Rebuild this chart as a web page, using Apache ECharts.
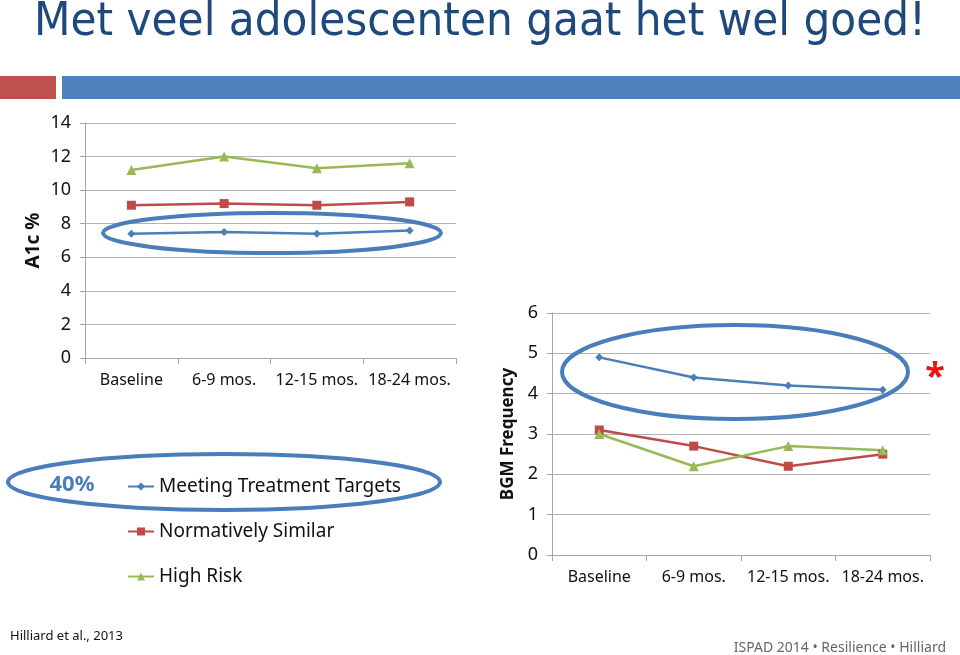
<!DOCTYPE html>
<html><head><meta charset="utf-8">
<script src="https://cdn.jsdelivr.net/npm/echarts@6/dist/echarts.min.js"></script>
<style>html,body{margin:0;padding:0;background:#fff}#c{width:960px;height:655px}</style>
</head><body><div id="c"></div>
<script>
var categories = ['Baseline', '6-9 mos.', '12-15 mos.', '18-24 mos.'];
var seriesNames = ['Meeting Treatment Targets', 'Normatively Similar', 'High Risk'];
var a1cMeeting = [7.4, 7.5, 7.4, 7.6];
var a1cNormative = [9.1, 9.2, 9.1, 9.3];
var a1cHighRisk = [11.2, 12.0, 11.3, 11.6];
var bgmMeeting = [4.9, 4.4, 4.2, 4.1];
var bgmNormative = [3.1, 2.7, 2.2, 2.5];
var bgmHighRisk = [3.0, 2.2, 2.7, 2.6];

var FONT = "'Noto Sans', sans-serif";
var colors = ['#4a7ebb', '#be4b48', '#98b954'];
var symbols = ['diamond', 'rect', 'triangle'];
var symSizes = [8, 9, 10];

function mk(name, data, i, idx) {
  return {
    name: name, type: 'line', data: data, xAxisIndex: idx, yAxisIndex: idx,
    symbol: symbols[i], symbolSize: symSizes[i],
    lineStyle: {width: 2.5, color: colors[i]},
    itemStyle: {color: colors[i]},
    z: 3
  };
}

var chart = echarts.init(document.getElementById('c'));
function xAx(idx) {
  return {
    type: 'category', gridIndex: idx, data: categories, boundaryGap: true,
    axisLine: {lineStyle: {color: '#a6a6a6', width: 1}},
    axisTick: {show: true, length: 6, lineStyle: {color: '#a6a6a6'}},
    axisLabel: {interval: 0, fontFamily: FONT, fontSize: 16, color: '#111', margin: 14}
  };
}
function yAx(idx, max, interval, name, gap, nfs) {
  return {
    type: 'value', gridIndex: idx, min: 0, max: max, interval: interval,
    name: name, nameLocation: 'middle', nameGap: gap,
    nameTextStyle: {fontFamily: FONT, fontWeight: 'bold', fontSize: nfs, color: '#111'},
    axisLine: {show: true, lineStyle: {color: '#a6a6a6', width: 1}},
    axisTick: {show: true, length: 5, lineStyle: {color: '#a6a6a6'}},
    splitLine: {lineStyle: {color: '#b3b3b3', width: 1}},
    axisLabel: {fontFamily: FONT, fontSize: 18, color: '#111', margin: 14}
  };
}

chart.setOption({
  animation: false,
  title: {
    text: 'Met veel adolescenten gaat het wel goed!',
    left: 'center', top: -6,
    textStyle: {fontFamily: "'DejaVu Sans Condensed', 'Noto Sans', sans-serif", fontWeight: 'normal', fontSize: 47, color: '#1f497d'}
  },
  legend: {
    orient: 'vertical', left: 122, top: 472, itemWidth: 26, itemHeight: 10, itemGap: 26,
    data: seriesNames,
    textStyle: {fontFamily: FONT, fontSize: 19, color: '#111'}
  },
  grid: [
    {left: 85, top: 123, width: 371, height: 235},
    {left: 552, top: 313, width: 378, height: 242}
  ],
  xAxis: [xAx(0), xAx(1)],
  yAxis: [yAx(0, 14, 2, 'A1c %', 42, 19), yAx(1, 6, 1, 'BGM Frequency', 35, 17)],
  series: [
    mk(seriesNames[0], a1cMeeting, 0, 0),
    mk(seriesNames[1], a1cNormative, 1, 0),
    mk(seriesNames[2], a1cHighRisk, 2, 0),
    mk(seriesNames[0], bgmMeeting, 0, 1),
    mk(seriesNames[1], bgmNormative, 1, 1),
    mk(seriesNames[2], bgmHighRisk, 2, 1)
  ],
  graphic: [
    {type: 'rect', shape: {x: 0, y: 76, width: 56, height: 23}, style: {fill: '#c0504d'}},
    {type: 'rect', shape: {x: 62, y: 76, width: 898, height: 23}, style: {fill: '#4f81bd'}},
    {type: 'ellipse', shape: {cx: 272, cy: 233, rx: 169, ry: 20}, style: {fill: 'none', stroke: '#4a7ebb', lineWidth: 4}, z: 10},
    {type: 'ellipse', shape: {cx: 735, cy: 372, rx: 173, ry: 47}, style: {fill: 'none', stroke: '#4a7ebb', lineWidth: 4}, z: 10},
    {type: 'ellipse', shape: {cx: 224, cy: 482, rx: 216, ry: 28}, style: {fill: 'none', stroke: '#4a7ebb', lineWidth: 4}, z: 10},
    {type: 'text', style: {text: '40%', x: 72, y: 485, fill: '#4a7ebb', font: "bold 22px 'Noto Sans', sans-serif", textAlign: 'center', textVerticalAlign: 'middle'}},
    {type: 'text', style: {text: '*', x: 935, y: 378, fill: '#ee1111', font: "bold 36px 'Noto Sans', sans-serif", textAlign: 'center', textVerticalAlign: 'middle'}},
    {type: 'text', style: {text: 'Hilliard et al., 2013', x: 10, y: 636, fill: '#111', font: "13px 'Liberation Sans Narrow', 'Noto Sans', sans-serif", textVerticalAlign: 'middle'}},
    {type: 'text', style: {text: 'ISPAD 2014 \u2022 Resilience \u2022 Hilliard', x: 946, y: 648, fill: '#666', font: "14px 'Liberation Sans Narrow', 'Noto Sans', sans-serif", textAlign: 'right', textVerticalAlign: 'middle'}}
  ]
});
</script></body></html>
